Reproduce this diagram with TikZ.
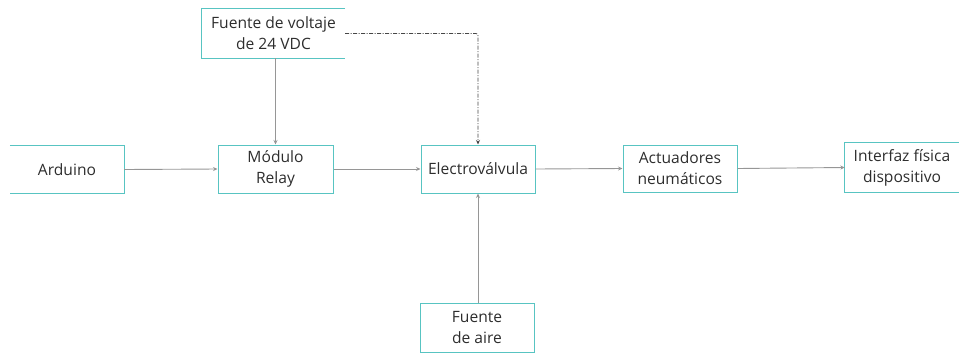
\documentclass[tikz,border=0pt]{standalone}
\usepackage{fontspec}
\setmainfont{Open Sans}
\usetikzlibrary{arrows.meta}
\definecolor{boxteal}{RGB}{88,196,194}
\definecolor{txtgray}{RGB}{45,45,45}
\definecolor{linegray}{RGB}{150,150,150}
\definecolor{dashgray}{RGB}{70,70,70}
\begin{document}
\begin{tikzpicture}[x=1pt,y=-1pt,
  blk/.style={minimum width=114pt,minimum height=48pt,inner sep=0pt,align=center,
    text=txtgray,font=\fontsize{15.6}{21}\selectfont},
  frame/.style={draw=boxteal,line width=1pt},
  arr/.style={draw=linegray,line width=0.9pt,-{Stealth[length=4.5pt,width=4pt]}},
  dd/.style={draw=dashgray,line width=0.8pt,dash pattern=on 4pt off 1.5pt on 1pt off 1.5pt,rounded corners=2pt,-{Stealth[length=4.5pt,width=4pt]}}]
\useasboundingbox (0,0) rectangle (959,354);
\node[blk] (ard) at (67,169.5) {Arduino};
\node[blk,frame,minimum width=115pt] (rel) at (275.5,169) {Módulo\\Relay};
\node[blk,minimum width=143pt,minimum height=49pt] (vol) at (273.5,33.5) {Fuente de voltaje\\de 24 VDC};
\node[blk,frame] (ev) at (478,169) {Electroválvula};
\node[blk,frame,minimum height=47pt] (act) at (680,168.5) {Actuadores\\neumáticos};
\node[blk,minimum height=49pt] (itf) at (902,167.5) {Interfaz física\\dispositivo};
\node[blk,frame,minimum height=49pt] (air) at (477,327.5) {Fuente\\de aire};
% open-sided frames
\draw[frame] (ard.north west) -- (ard.north east) -- (ard.south east) -- (ard.south west);
\draw[frame] (vol.north east) -- (vol.north west) -- (vol.south west) -- (vol.south east);
\draw[frame] (itf.north east) -- (itf.north west) -- (itf.south west) -- (itf.south east);
% connectors
\draw[arr] (ard.east) -- (rel.west);
\draw[arr] (rel.east) -- (ev.west);
\draw[arr] (ev.east) -- (act.west);
\draw[arr] (act.east) -- (itf.west);
\draw[arr] (rel.north |- vol.south) -- (rel.north);
\draw[arr] (air.north -| ev.south) -- (ev.south);
\draw[dd] (vol.east) -- (vol.east -| ev.north) -- (ev.north);
\end{tikzpicture}
\end{document}
